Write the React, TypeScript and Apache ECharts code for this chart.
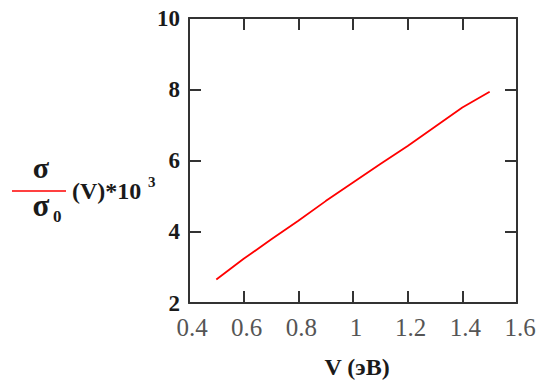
import React, { useEffect, useRef } from "react";
import * as echarts from "echarts";

const voltage = [0.5, 0.6, 0.7, 0.8, 0.9, 1.0, 1.1, 1.2, 1.3, 1.4, 1.5];
const sigmaRatio = [2.66, 3.24, 3.78, 4.31, 4.86, 5.38, 5.9, 6.41, 6.95, 7.49, 7.93];
const xTicks = [0.4, 0.6, 0.8, 1, 1.2, 1.4, 1.6];
const yTicks = [2, 4, 6, 8, 10];

const SERIF = "Liberation Serif";
const INK = "#1a1a1a";

export default function App() {
  const ref = useRef<HTMLDivElement>(null);
  useEffect(() => {
    if (!ref.current) return;
    const chart = echarts.init(ref.current, undefined, { renderer: "svg" });
    const data = voltage.map((v, i) => [v, sigmaRatio[i]]);
    const tickStyle = { show: true, inside: true, length: 12, lineStyle: { color: "#333", width: 2 } };
    const frameLine = { show: true, lineStyle: { color: "#333", width: 2 } };
    const txt = (size: number, bold: boolean) => ({
      fontFamily: SERIF,
      fontSize: size,
      fontWeight: bold ? "bold" : "normal",
      fill: INK,
    });
    chart.setOption({
      animation: false,
      backgroundColor: "#fff",
      grid: {
        left: 189,
        right: 22,
        top: 18,
        bottom: 77,
        show: false,
      },
      xAxis: [
        {
          type: "value",
          min: xTicks[0],
          max: xTicks[xTicks.length - 1],
          interval: 0.2,
          axisLine: frameLine,
          axisTick: tickStyle,
          splitLine: { show: false },
          axisLabel: {
            color: "#555",
            fontFamily: SERIF,
            fontSize: 25,
            margin: 12,
            padding: [0, 0, 0, 6],
            formatter: (v: number) => String(+v.toFixed(1)),
          },
        },
        {
          type: "value",
          position: "top",
          min: xTicks[0],
          max: xTicks[xTicks.length - 1],
          interval: 0.2,
          axisLine: frameLine,
          axisTick: tickStyle,
          splitLine: { show: false },
          axisLabel: { show: false },
        },
      ],
      yAxis: [
        {
          type: "value",
          min: yTicks[0],
          max: yTicks[yTicks.length - 1],
          interval: 2,
          axisLine: frameLine,
          axisTick: tickStyle,
          splitLine: { show: false },
          axisLabel: {
            color: INK,
            fontFamily: SERIF,
            fontWeight: "bold",
            fontSize: 23,
            margin: 9,
          },
        },
        {
          type: "value",
          position: "right",
          min: yTicks[0],
          max: yTicks[yTicks.length - 1],
          interval: 2,
          axisLine: frameLine,
          axisTick: tickStyle,
          splitLine: { show: false },
          axisLabel: { show: false },
        },
      ],
      series: [
        {
          type: "line",
          data,
          xAxisIndex: 0,
          yAxisIndex: 0,
          showSymbol: false,
          lineStyle: { color: "#ff0000", width: 1.8 },
        },
      ],
      graphic: [
        {
          type: "text",
          x: 41,
          y: 167,
          style: { text: "σ", ...txt(30, true), align: "center", verticalAlign: "middle" },
        },
        {
          type: "line",
          shape: { x1: 12, y1: 191, x2: 66, y2: 191 },
          style: { stroke: "#ff0000", lineWidth: 1.5 },
        },
        {
          type: "text",
          x: 41,
          y: 205,
          style: { text: "σ", ...txt(31, true), align: "center", verticalAlign: "middle" },
        },
        {
          type: "text",
          x: 53,
          y: 216,
          style: { text: "0", ...txt(17, true), align: "left", verticalAlign: "middle" },
        },
        {
          type: "text",
          x: 72,
          y: 191,
          style: { text: "(V)*10", ...txt(24, true), align: "left", verticalAlign: "middle" },
        },
        {
          type: "text",
          x: 148,
          y: 182,
          style: { text: "3", ...txt(15, true), align: "left", verticalAlign: "middle" },
        },
        {
          type: "text",
          x: 357,
          y: 367,
          style: { text: "V (эВ)", ...txt(24, true), align: "center", verticalAlign: "middle" },
        },
      ],
    });
    return () => chart.dispose();
  }, []);
  return <div ref={ref} style={{ position: "absolute", left: 0, top: 0, width: 539, height: 380 }} />;
}
